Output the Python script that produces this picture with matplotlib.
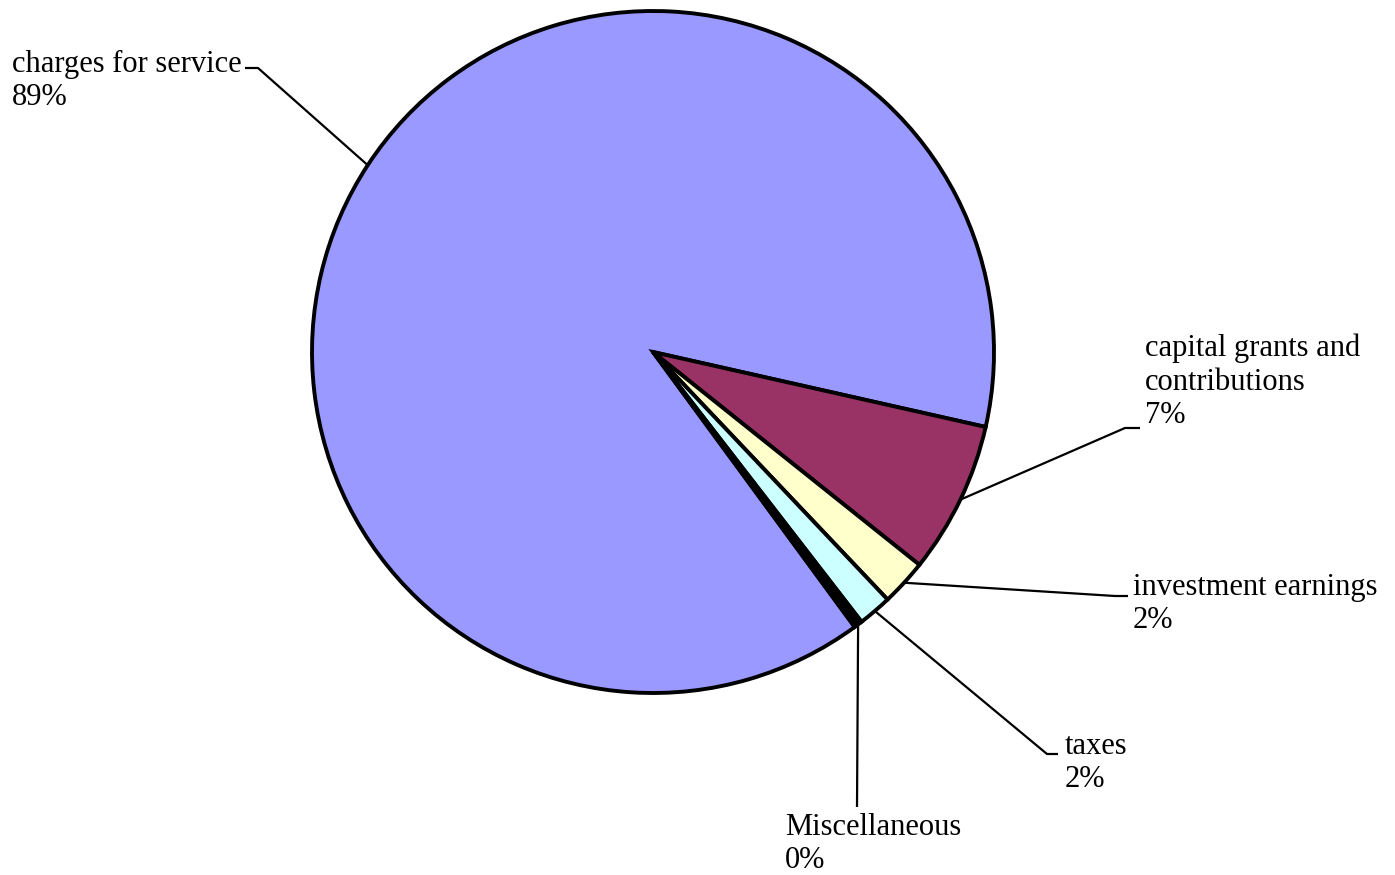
import numpy as np
import matplotlib.pyplot as plt

# revenue shares (percent)
sources = ["charges for service", "capital grants and\ncontributions",
           "investment earnings", "taxes", "Miscellaneous"]
shares = [88.6, 7.2, 2.2, 1.6, 0.4]
colors = ["#9999FF", "#993366", "#FFFFCC", "#CCFFFF", "#000000"]

W, H = 1395, 875
fig = plt.figure(figsize=(W / 100, H / 100), dpi=100)
ax = fig.add_axes([0, 0, 1, 1])

cx, cy, r = 653, H - 352, 341
wedges, _ = ax.pie(shares, colors=colors, startangle=-53.74, counterclock=False,
                   center=(cx, cy), radius=r, frame=True,
                   wedgeprops=dict(edgecolor="black", linewidth=2.8))
ax.set_xlim(0, W)
ax.set_ylim(0, H)
ax.set_aspect("equal")
ax.axis("off")

# label text position (left, baseline of the percent line) and leader bend points,
# in pixels from the top
layout = [
    ((12, 105), [(258, 68), (245, 68)]),
    ((1145, 423), [(1125, 428), (1140, 428)]),
    ((1133, 628), [(1115, 596), (1128, 596)]),
    ((1065, 787), [(1047, 754), (1058, 754)]),
    ((785, 868), [(857, 807)]),
]

for w, name, val, (tpos, bends) in zip(wedges, sources, shares, layout):
    mid = np.deg2rad((w.theta1 + w.theta2) / 2)
    x0, y0 = cx + r * np.cos(mid), cy + r * np.sin(mid)
    xs = [x0] + [b[0] for b in bends]
    ys = [y0] + [H - b[1] for b in bends]
    ax.plot(xs, ys, color="black", lw=1.6, solid_capstyle="butt")
    ax.text(tpos[0], H - tpos[1], f"{name}\n{round(val):.0f}%",
            ha="left", va="baseline", fontsize=22, family="Liberation Serif",
            linespacing=1.2, color="black")

fig.savefig("out.png", dpi=100)
